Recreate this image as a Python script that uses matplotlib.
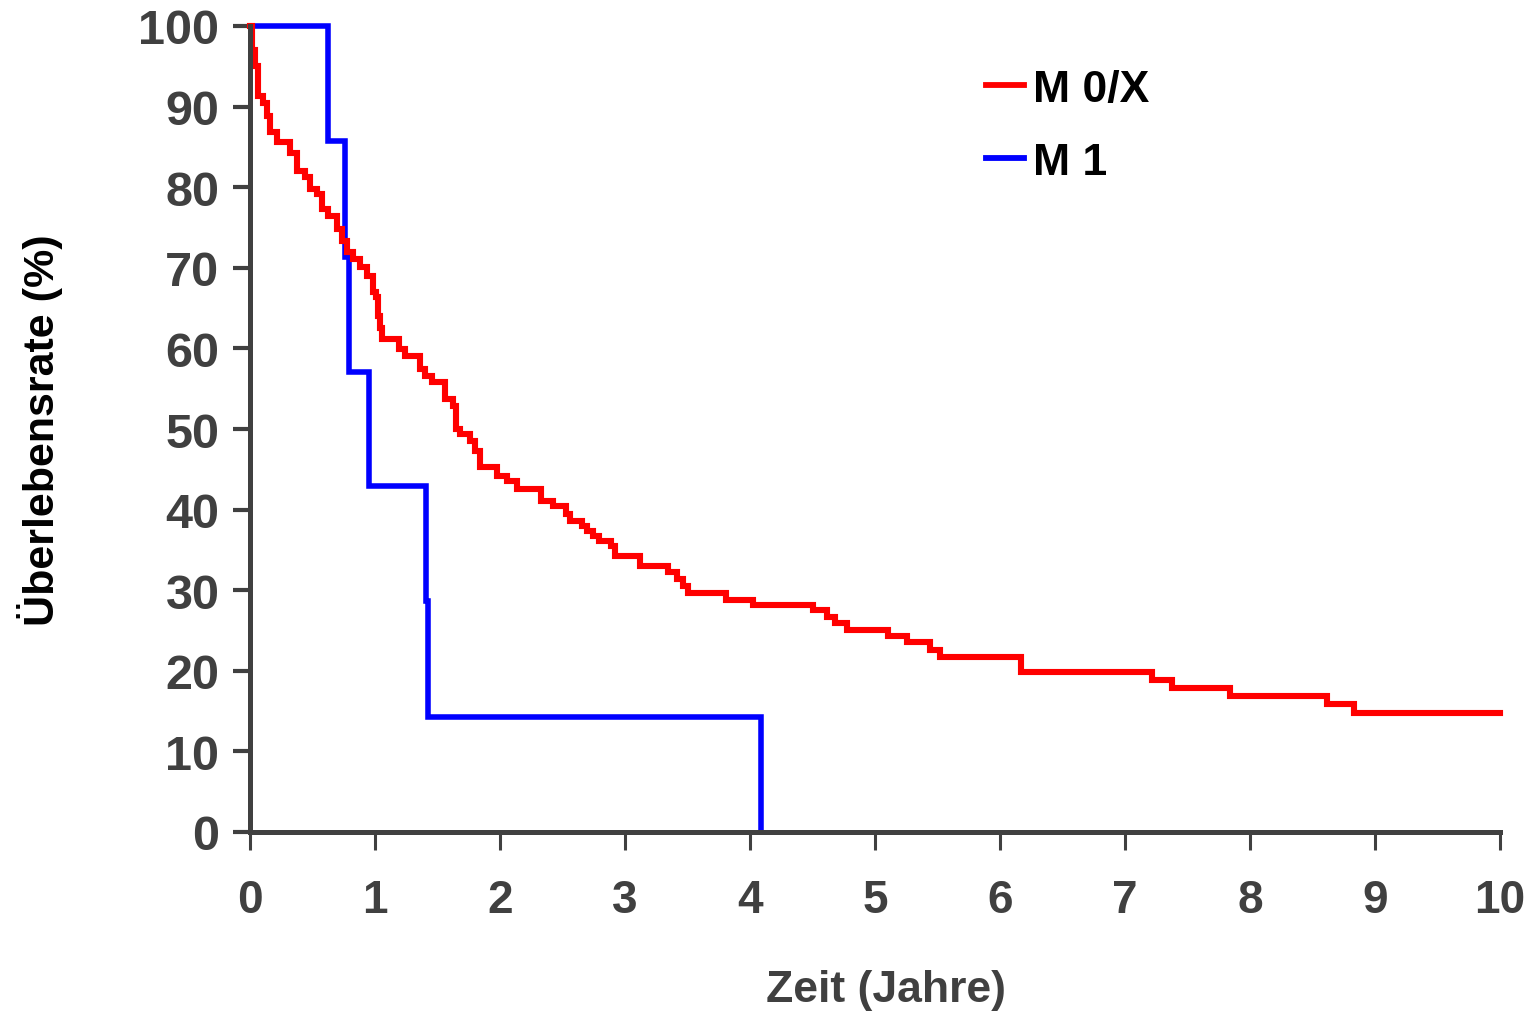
import matplotlib
matplotlib.use("Agg")
import matplotlib.pyplot as plt

# Kaplan-Meier survival estimates (time in years, survival in %)
m0x_time = [0.0, 0.02, 0.04, 0.064, 0.104, 0.136, 0.16, 0.216, 0.32, 0.376, 0.44,
            0.48, 0.536, 0.576, 0.624, 0.696, 0.736, 0.776, 0.824, 0.88, 0.936,
            0.984, 1.008, 1.024, 1.04, 1.056, 1.192, 1.24, 1.36, 1.40, 1.456,
            1.56, 1.624, 1.648, 1.68, 1.76, 1.80, 1.84, 1.976, 2.056, 2.136,
            2.328, 2.424, 2.528, 2.56, 2.656, 2.696, 2.744, 2.792, 2.888, 2.92,
            3.12, 3.344, 3.416, 3.464, 3.504, 3.808, 4.024, 4.504, 4.616, 4.68,
            4.776, 5.104, 5.256, 5.44, 5.52, 6.168, 7.216, 7.376, 7.84, 8.616,
            8.832, 10.0]
m0x_surv = [100.0, 97.0, 95.0, 91.3, 90.5, 88.8, 86.8, 85.6, 84.3, 82.0, 81.3,
            79.8, 79.1, 77.3, 76.4, 74.8, 73.3, 72.0, 71.1, 70.1, 69.0,
            67.0, 66.4, 64.0, 62.5, 61.2, 59.9, 59.1, 57.4, 56.6, 55.8,
            53.7, 52.9, 50.0, 49.4, 48.5, 47.3, 45.3, 44.2, 43.5, 42.5,
            41.1, 40.5, 39.5, 38.6, 38.0, 37.3, 36.7, 36.1, 35.5, 34.3,
            33.0, 32.3, 31.4, 30.5, 29.7, 28.8, 28.2, 27.5, 26.7, 25.9,
            25.1, 24.3, 23.6, 22.6, 21.7, 19.8, 18.9, 17.9, 16.9, 15.9,
            14.8, 14.8]

m1_time = [0.0, 0.62, 0.76, 0.79, 0.95, 1.41, 1.42, 4.09]
m1_surv = [100.0, 85.7, 71.4, 57.1, 42.9, 28.6, 14.3, 0.0]

series_labels = ["M 0/X", "M 1"]
series_colors = ["#ff0000", "#0000ff"]

x_ticks = list(range(0, 11))
y_ticks = list(range(0, 101, 10))
x_label = "Zeit (Jahre)"
y_label = "Überlebensrate (%)"

axis_grey = "#404040"
plt.rcParams["font.family"] = ["Liberation Sans", "DejaVu Sans"]
plt.rcParams["font.weight"] = "bold"

fig = plt.figure(figsize=(15.35, 10.12), dpi=100)
ax = fig.add_axes([250 / 1535, 1 - 833 / 1012, 1250 / 1535, 806 / 1012])

ax.step(m0x_time, m0x_surv, where="post", color=series_colors[0], lw=4.4,
        label=series_labels[0], solid_joinstyle="miter", zorder=3, clip_on=False)
ax.step(m1_time, m1_surv, where="post", color=series_colors[1], lw=4.0,
        label=series_labels[1], solid_joinstyle="miter", zorder=2, clip_on=False)

ax.set_xlim(0, 10)
ax.set_ylim(0, 100)
ax.set_xticks(x_ticks)
ax.set_yticks(y_ticks)

for side in ("top", "right"):
    ax.spines[side].set_visible(False)
for side in ("left", "bottom"):
    ax.spines[side].set_color(axis_grey)
    ax.spines[side].set_linewidth(3.6)
    ax.spines[side].set_clip_on(False)
    ax.spines[side].set_zorder(4)

ax.tick_params(axis="y", direction="out", length=12, width=3.0, color=axis_grey,
               labelsize=35, labelcolor=axis_grey, pad=10)
ax.tick_params(axis="x", direction="out", length=13, width=2.2, color=axis_grey,
               labelsize=33, labelcolor=axis_grey, pad=20)
for lbl in ax.get_xticklabels() + ax.get_yticklabels():
    lbl.set_fontweight("bold")

ax.set_xlabel(x_label, fontsize=32, fontweight="bold", color=axis_grey, labelpad=34)
ax.xaxis.set_label_coords(636 / 1250, -0.17)
ax.set_ylabel(y_label, fontsize=31, fontweight="bold", color="#000000", labelpad=54)

leg = ax.legend(loc="upper left", bbox_to_anchor=(736 / 1250, 1 - 43 / 806),
                frameon=False, fontsize=32, handlelength=0.85, handletextpad=0.2,
                labelspacing=0.72, borderaxespad=0, borderpad=0)
for text in leg.get_texts():
    text.set_fontweight("bold")
    text.set_color("#000000")
for line in leg.get_lines():
    line.set_linewidth(4.2)

fig.savefig("out.png", dpi=100)
